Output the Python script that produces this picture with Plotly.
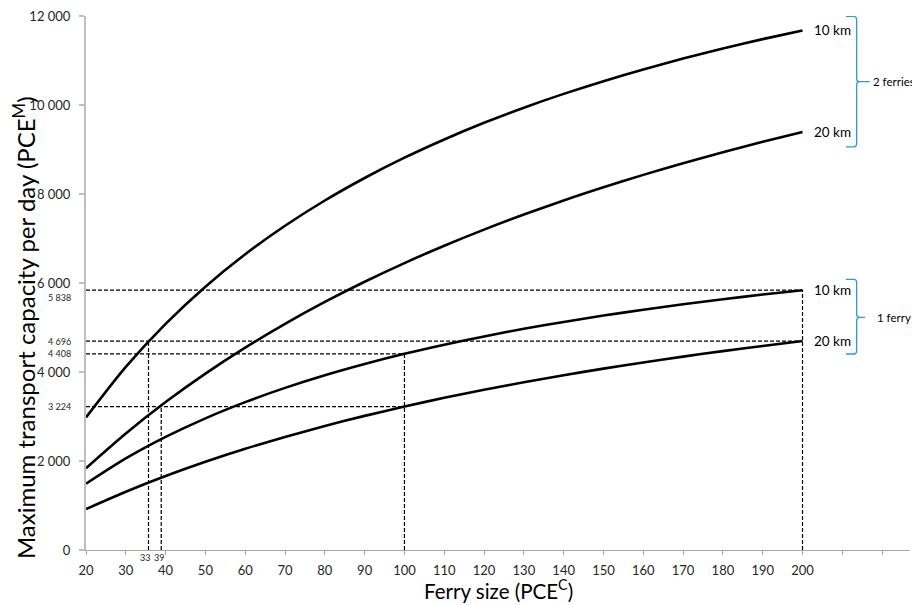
import plotly.graph_objects as go

# ---------------- data ----------------
ferry_size = [20, 30, 40, 50, 60, 70, 80, 90, 100, 110, 120, 130, 140, 150, 160, 170, 180, 190, 200]
cap_2f_10km = [2978, 4114, 5082, 5918, 6646, 7286, 7854, 8360, 8816, 9226, 9600, 9940, 10250, 10536, 10800, 11044, 11270, 11480, 11676]
cap_2f_20km = [1838, 2618, 3324, 3964, 4548, 5082, 5574, 6028, 6448, 6838, 7200, 7538, 7856, 8152, 8430, 8692, 8938, 9172, 9392]
cap_1f_10km = [1489, 2057, 2541, 2959, 3323, 3643, 3927, 4180, 4408, 4613, 4800, 4970, 5125, 5268, 5400, 5522, 5635, 5740, 5838]
cap_1f_20km = [919, 1309, 1662, 1982, 2274, 2541, 2787, 3014, 3224, 3419, 3600, 3769, 3928, 4076, 4215, 4346, 4469, 4586, 4696]

series_names = ["2 ferries, 10 km", "2 ferries, 20 km", "1 ferry, 10 km", "1 ferry, 20 km"]
series_labels = ["10 km", "20 km", "10 km", "20 km"]

ytick_vals = [0, 2000, 4000, 6000, 8000, 10000, 12000]
ytick_text = ["0", "2 000", "4 000", "6 000", "8 000", "10 000", "12 000"]
xtick_vals = [20, 30, 40, 50, 60, 70, 80, 90, 100, 110, 120, 130, 140, 150, 160, 170, 180, 190, 200, 210, 220]
xtick_text = ["20", "30", "40", "50", "60", "70", "80", "90", "100", "110", "120", "130", "140",
              "150", "160", "170", "180", "190", "200", " ", " "]

# reference (dashed) lines
ref_y_vals = [5838, 4696, 4408, 3224]
ref_y_text = ["5 838", "4 696", "4 408", "3 224"]
ref_y_end_x = [200, 200, 100, 100]
ref_x_vals = [35.7, 38.9, 100, 200]
ref_x_top = [4696, 3224, 4408, 5838]
ref_x_text = ["33", "39", "", ""]

group_labels = ["2 ferries", "1 ferry"]

FONT = "Lato"
BLUE = "#2E9AD6"

fig = go.Figure()

# dashed reference lines
dx, dy = [], []
for yv, xe in zip(ref_y_vals, ref_y_end_x):
    dx += [20, xe, None]
    dy += [yv, yv, None]
for xv, yt in zip(ref_x_vals, ref_x_top):
    dx += [xv, xv, None]
    dy += [0, yt, None]
fig.add_trace(go.Scatter(x=dx, y=dy, mode="lines", hoverinfo="skip",
                         line=dict(color="black", width=1.2, dash="4px,2px")))

# curves
for name, vals in zip(series_names, [cap_2f_10km, cap_2f_20km, cap_1f_10km, cap_1f_20km]):
    fig.add_trace(go.Scatter(x=ferry_size, y=vals, mode="lines", name=name,
                             line=dict(color="black", width=2.6, shape="spline", smoothing=0.8)))

annotations = []
# curve end labels
for lab, vals in zip(series_labels, [cap_2f_10km, cap_2f_20km, cap_1f_10km, cap_1f_20km]):
    annotations.append(dict(x=ferry_size[-1], y=vals[-1], xref="x", yref="y", text=lab,
                            showarrow=False, xanchor="left", xshift=9,
                            font=dict(family=FONT, size=13.5, color="black")))

# small value labels on the y axis
for yv, txt in zip(ref_y_vals, ref_y_text):
    annotations.append(dict(x=0, y=yv, xref="paper", yref="y", text=txt, showarrow=False,
                            xanchor="right", xshift=-13.5, yshift=(-7 if yv == 5838 else 0),
                            font=dict(family=FONT, size=9, color="#262626")))
# small value labels on the x axis
for xv, txt, sh in zip(ref_x_vals, ref_x_text, [-3.5, -2.5, 0, 0]):
    if txt:
        annotations.append(dict(x=xv, y=0, xref="x", yref="paper", text=txt, showarrow=False,
                                xanchor="center", yanchor="middle", xshift=sh, yshift=-7,
                                font=dict(family=FONT, size=9, color="#262626")))

# braces and group labels
def brace(top, mid, bot, tip):
    xh, xb, rx, ry = 210.9, 213.6, 0.75, 67
    return (f"M {xh},{top} L {xb-rx},{top} Q {xb},{top} {xb},{top-ry} L {xb},{mid+ry} "
            f"Q {xb},{mid} {xb+rx},{mid} L {tip},{mid} "
            f"M {xb+rx},{mid} Q {xb},{mid} {xb},{mid-ry} L {xb},{bot+ry} "
            f"Q {xb},{bot} {xb-rx},{bot} L {xh},{bot}")

shapes = [
    dict(type="path", xref="x", yref="y", path=brace(11990, 10524, 9060, 216.9),
         line=dict(color=BLUE, width=1.3)),
    dict(type="path", xref="x", yref="y", path=brace(6083, 5229, 4404, 215.7),
         line=dict(color=BLUE, width=1.3)),
]
annotations.append(dict(x=217.2, y=10524, xref="x", yref="y", text=group_labels[0], showarrow=False,
                        xanchor="left", font=dict(family=FONT, size=11.5, color="black")))
annotations.append(dict(x=218.2, y=5229, xref="x", yref="y", text=group_labels[1], showarrow=False,
                        xanchor="left", font=dict(family=FONT, size=11.5, color="black")))

# axis titles
annotations.append(dict(x=-0.0745, y=0.4167, xref="paper", yref="paper",
                        text="Maximum transport capacity per day (PCE<sup>M</sup>)",
                        textangle=-90, showarrow=False, xanchor="center", yanchor="middle",
                        font=dict(family=FONT, size=24, color="black")))
annotations.append(dict(x=0.5, y=-0.0749, xref="paper", yref="paper",
                        text="Ferry size (PCE<sup>C</sup>)", showarrow=False,
                        xanchor="center", yanchor="middle",
                        font=dict(family=FONT, size=20.5, color="black")))

# the page body adds an 8 px offset, so the figure is sized/margined to compensate
fig.update_layout(
    width=912, height=597,
    margin=dict(l=78, r=10, t=8, b=55),
    plot_bgcolor="white", paper_bgcolor="white",
    showlegend=False,
    font=dict(family=FONT, color="#262626"),
    annotations=annotations, shapes=shapes,
    xaxis=dict(range=[20, 227], tickmode="array", tickvals=xtick_vals, ticktext=xtick_text,
               showline=True, linecolor="#A6A6A6", linewidth=1, ticks="outside", ticklen=4,
               tickcolor="#A6A6A6", tickwidth=1, showgrid=False, zeroline=False,
               tickfont=dict(family=FONT, size=13, color="#262626"), ticklabelstandoff=4,
               ticklabeloverflow="allow", automargin=False),
    yaxis=dict(range=[0, 12000], tickmode="array", tickvals=ytick_vals, ticktext=ytick_text,
               showline=True, linecolor="#BFBFBF", linewidth=2, ticks="outside", ticklen=5,
               tickcolor="#BFBFBF", tickwidth=1.5, showgrid=False, zeroline=False,
               tickfont=dict(family=FONT, size=13, color="#262626"), ticklabelstandoff=6,
               ticklabeloverflow="allow", automargin=False),
)

fig.write_html("out.html")
